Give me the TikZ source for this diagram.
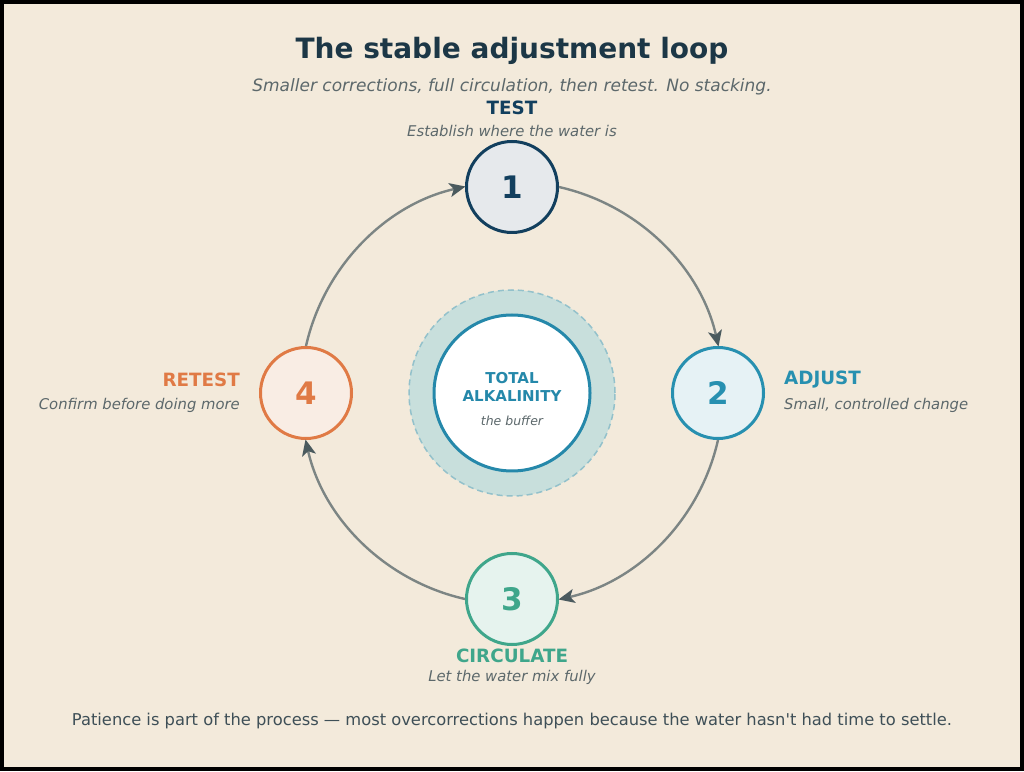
\documentclass[tikz,border=0pt]{standalone}
\usepackage{fontspec}
\setmainfont{DejaVu Sans}[Ligatures=TeXOff]
\usetikzlibrary{arrows.meta}
\definecolor{bg}{HTML}{F3EADB}
\definecolor{titlec}{HTML}{1C3746}
\definecolor{descc}{HTML}{5C686B}
\definecolor{footc}{HTML}{3E4F57}
\definecolor{navy}{HTML}{123F5E}
\definecolor{navyf}{HTML}{E6E9EC}
\definecolor{teal}{HTML}{2790B0}
\definecolor{tealf}{HTML}{E6F2F5}
\definecolor{green}{HTML}{3FA68B}
\definecolor{greenf}{HTML}{E6F3EE}
\definecolor{orange}{HTML}{E07A45}
\definecolor{orangef}{HTML}{F9EDE4}
\definecolor{halo}{HTML}{C8DFDC}
\definecolor{halob}{HTML}{93C1CB}
\definecolor{ctr}{HTML}{2588AA}
\definecolor{arrline}{HTML}{7C8584}
\definecolor{arrhead}{HTML}{4A5A5E}
\tikzset{
  stepnode/.style={circle, minimum size=91pt, inner sep=0pt, line width=3pt, font=\fontsize{31}{31}\selectfont\bfseries},
  steptitle/.style={font=\fontsize{18.3}{18.3}\selectfont\bfseries, inner sep=0pt},
  stepdesc/.style={font=\fontsize{14.8}{14.8}\selectfont\itshape, text=descc, inner sep=0pt},
  loopArrow/.style={draw=arrline, line width=2.4pt, -{Stealth[length=16pt,width=14pt,inset=4pt,color=arrhead]}}
}
\begin{document}
\begin{tikzpicture}[x=1pt,y=1pt]
\useasboundingbox (0,0) rectangle (1024,771);
\fill[black] (0,0) rectangle (1024,771);
\fill[bg] (4,4) rectangle (1020,767);
% title
\node[font=\fontsize{28}{28}\selectfont\bfseries, text=titlec, inner sep=0pt] (title) at (512,720) {The stable adjustment loop};
\node[font=\fontsize{17}{17}\selectfont\itshape, text=descc, inner sep=0pt] (subtitle) at (512,684) {Smaller corrections, full circulation, then retest. No stacking.};
% center
\node[circle, minimum size=206pt, inner sep=0pt, fill=halo, draw=halob, line width=1.5pt, dash pattern=on 6pt off 4pt] (halo) at (512,378) {};
\node[circle, minimum size=156pt, inner sep=0pt, fill=white, draw=ctr, line width=3pt] (center) at (512,378) {};
\node[font=\fontsize{15}{15}\selectfont\bfseries, text=ctr, align=center, inner sep=0pt] (ctrtitle) at (512,384) {TOTAL\\[3pt]ALKALINITY};
\node[font=\fontsize{12.5}{12.5}\selectfont\itshape, text=descc, inner sep=0pt] (ctrdesc) at (512,350) {the buffer};
% steps
\node[stepnode, draw=navy, fill=navyf, text=navy] (n1) at (512,584) {1};
\node[stepnode, draw=teal, fill=tealf, text=teal] (n2) at (718,378) {2};
\node[stepnode, draw=green, fill=greenf, text=green] (n3) at (512,172) {3};
\node[stepnode, draw=orange, fill=orangef, text=orange] (n4) at (306,378) {4};
% labels
\node[steptitle, text=navy] (t1) at (512,663) {TEST};
\node[stepdesc] (d1) at (512,640) {Establish where the water is};
\node[steptitle, text=teal, anchor=west] (t2) at (784,391) {ADJUST};
\node[stepdesc, anchor=west] (d2) at (784,366) {Small, controlled change};
\node[steptitle, text=green] (t3) at (512,115) {CIRCULATE};
\node[stepdesc] (d3) at (512,94) {Let the water mix fully};
\node[steptitle, text=orange, anchor=east] (t4) at (240,391) {RETEST};
\node[stepdesc, anchor=east] (d4) at (240,366) {Confirm before doing more};
% arrows
\draw[loopArrow] (n1.east) arc[start angle=77.28, end angle=12.72, radius=211.2pt];
\draw[loopArrow] (n2.south) arc[start angle=-12.72, end angle=-77.28, radius=211.2pt];
\draw[loopArrow] (n3.west) arc[start angle=-102.72, end angle=-167.28, radius=211.2pt];
\draw[loopArrow] (n4.north) arc[start angle=167.28, end angle=102.72, radius=211.2pt];
% footer
\node[font=\fontsize{16.3}{16.3}\selectfont, text=footc, inner sep=0pt] (foot) at (512,50) {Patience is part of the process — most overcorrections happen because the water hasn't had time to settle.};
\end{tikzpicture}
\end{document}
